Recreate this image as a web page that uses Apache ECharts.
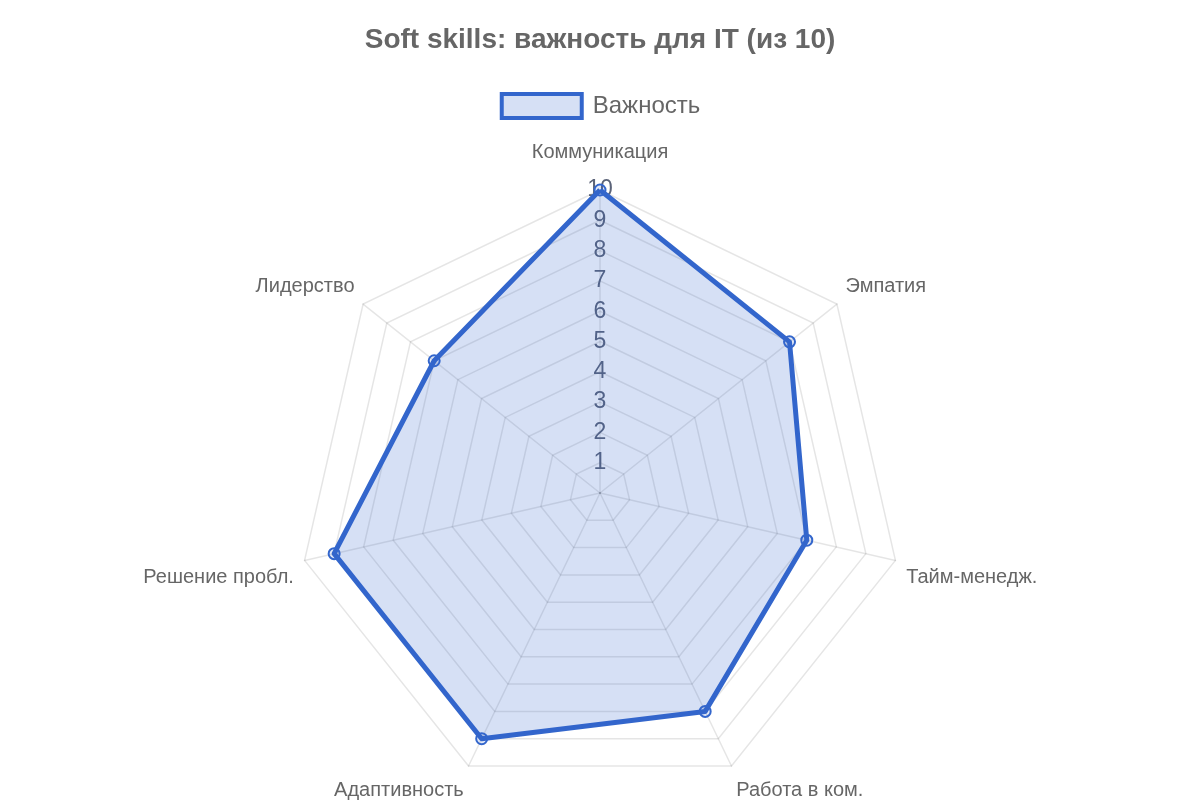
<!DOCTYPE html>
<html>
<head>
<meta charset="utf-8">
<script src="https://cdn.jsdelivr.net/npm/echarts@6/dist/echarts.min.js"></script>
<style>
  html, body { margin: 0; padding: 0; background: #fff; }
  #main { width: 1200px; height: 800px; }
</style>
</head>
<body>
<div id="main"></div>
<script>
// навыки и оценки (по часовой стрелке, начиная сверху)
const skills = ['Коммуникация', 'Эмпатия', 'Тайм-менедж.', 'Работа в ком.', 'Адаптивность', 'Решение пробл.', 'Лидерство'];
const importance = [10, 8, 7, 8, 9, 9, 7];
const maxScore = 10;

// ECharts рисует оси против часовой стрелки — переставляем порядок
const order = [0].concat(skills.map((_, i) => i).slice(1).reverse());

const myChart = echarts.init(document.getElementById('main'));

const indicator = order.map((i) => ({ name: skills[i], min: 0, max: maxScore }));
// подписи шкалы 1..10 только на верхней оси
indicator[0].axisLabel = {
  show: true,
  showMinLabel: false,
  fontSize: 23,
  color: '#5b6378',
  margin: 0,
  align: 'center',
  verticalAlign: 'middle',
  padding: [4, 0, 0, 0]
};

// верхние подписи поднимаем, нижние опускаем (как в chart.js)
function namePos(name) {
  const i = skills.indexOf(name);
  if (i === 0) return 'top';
  if (i === 1 || i === skills.length - 1) return 'up';
  return 'down';
}

const option = {
  backgroundColor: '#fff',
  textStyle: { fontFamily: 'Liberation Sans, Arial, sans-serif' },
  title: {
    text: 'Soft skills: важность для IT (из 10)',
    left: 'center',
    top: 21,
    textStyle: { fontSize: 28, fontWeight: 'bold', color: '#666' }
  },
  legend: {
    top: 87,
    left: 'center',
    icon: 'rect',
    itemWidth: 80,
    itemHeight: 24,
    itemGap: 10,
    textStyle: { fontSize: 24, color: '#666', padding: [0, 0, 0, 6] },
    itemStyle: {
      color: 'rgba(51,102,204,0.2)',
      borderColor: '#3366cc',
      borderWidth: 4
    },
    data: ['Важность']
  },
  radar: {
    center: [600, 493],
    radius: 303,
    shape: 'polygon',
    startAngle: 90,
    splitNumber: 10,
    indicator: indicator,
    nameGap: 11,
    axisName: {
      color: '#666',
      fontSize: 20,
      formatter: (name) => '{' + namePos(name) + '|' + name + '}',
      rich: {
        top: { fontSize: 20, color: '#666', padding: [0, 0, 17, 0] },
        up: { fontSize: 20, color: '#666', padding: [0, 0, 22, 0] },
        down: { fontSize: 20, color: '#666', padding: [30, 0, 0, 0] }
      }
    },
    axisLine: { lineStyle: { color: 'rgba(0,0,0,0.1)', width: 1.5 } },
    splitLine: { lineStyle: { color: 'rgba(0,0,0,0.1)', width: 1.5 } },
    splitArea: { show: false },
    axisLabel: { show: false }
  },
  series: [
    {
      type: 'radar',
      name: 'Важность',
      symbol: 'circle',
      symbolSize: 11,
      lineStyle: { color: '#3366cc', width: 5 },
      itemStyle: { color: 'rgba(51,102,204,0.15)', borderColor: '#3366cc', borderWidth: 2 },
      areaStyle: { color: 'rgba(51,102,204,0.2)', opacity: 1 },
      data: [{ value: order.map((i) => importance[i]), name: 'Важность' }]
    }
  ]
};

myChart.setOption(option);
</script>
</body>
</html>
